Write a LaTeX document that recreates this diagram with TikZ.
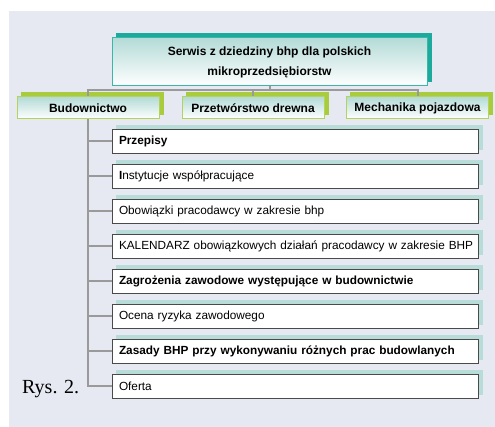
\documentclass[tikz,border=0pt]{standalone}
\usepackage{fontspec}
\setmainfont{Liberation Sans}
\newfontfamily\rysfont{Liberation Serif}
\definecolor{panelgray}{HTML}{E6E9F1}
\definecolor{tealdark}{HTML}{1CAA9C}
\definecolor{tealline}{HTML}{3BB7AA}
\definecolor{tealpale}{HTML}{B4DBD7}
\definecolor{itemshadow}{HTML}{B8DCD8}
\definecolor{limegreen}{HTML}{A9CB3E}
\definecolor{limeline}{HTML}{B5D35C}
\definecolor{linkgray}{HTML}{9A9A9A}
\definecolor{itemline}{HTML}{4A4A4A}
\pgfdeclarelayer{panel}
\pgfdeclarelayer{shade}
\pgfsetlayers{panel,shade,main}
\tikzset{
  mainbox/.style={draw=tealline, line width=1pt, top color=tealpale, bottom color=white,
    minimum width=315pt, minimum height=48pt, align=center,
    font=\fontsize{12}{20}\selectfont\bfseries},
  branchbox/.style={draw=limeline, line width=1pt, top color=tealpale, bottom color=white,
    minimum width=142pt, minimum height=22pt, inner sep=0pt,
    font=\fontsize{12}{14}\selectfont\bfseries},
  itembox/.style={draw=itemline, line width=1pt, fill=white,
    minimum width=366pt, text width=352pt, minimum height=24pt, inner xsep=7pt, inner ysep=0pt,
    align=left, font=\fontsize{11.8}{14}\selectfont},
  link/.style={draw=linkgray, line width=2pt}
}
\begin{document}
\begin{tikzpicture}[x=1pt,y=-1pt]
\useasboundingbox (0,0) rectangle (495,427);
\begin{pgfonlayer}{panel}
\fill[panelgray] (9,11) rectangle (495,427);
\end{pgfonlayer}

\node[mainbox] (serwis) at (269.5,62) {Serwis z dziedziny bhp dla polskich\\mikroprzedsiębiorstw};
\node[branchbox] (bud) at (88,108) {Budownictwo};
\node[branchbox] (drewno) at (253,108) {Przetwórstwo drewna};
\node[branchbox] (mech) at (417.5,108) {Mechanika pojazdowa};

\foreach \txt [count=\i] in {\textbf{Przepisy},
    \textbf{I}nstytucje współpracujące,
    Obowiązki pracodawcy w zakresie bhp,
    \mbox{KALENDARZ obowiązkowych działań pracodawcy w zakresie BHP},
    \textbf{Zagrożenia zawodowe występujące w budownictwie},
    Ocena ryzyka zawodowego,
    \textbf{Zasady BHP przy wykonywaniu różnych prac budowlanych},
    Oferta}{
  \node[itembox] (item\i) at (295,141.5+34.93*\i-34.93) {\txt};
}

% shadows, up and to the right
\begin{pgfonlayer}{shade}
\fill[tealdark] ([shift={(4,-4)}]serwis.south west) rectangle ([shift={(4,-4)}]serwis.north east);
\foreach \b in {bud,drewno,mech}
  \fill[limegreen] ([shift={(4,-4)}]\b.south west) rectangle ([shift={(4,-4)}]\b.north east);
\foreach \i in {1,...,8}
  \fill[itemshadow] ([shift={(4,-4)}]item\i.south west) rectangle ([shift={(4,-4)}]item\i.north east);

\coordinate (hub) at (269.5,90);
\draw[link] (serwis.south) -- (hub);
\foreach \b in {bud,drewno,mech}
  \draw[link] (hub) -| (\b.north);
\foreach \i in {1,...,7}
  \draw[link] (bud.south |- item\i.west) -- (item\i.west);
\draw[link] (bud.south) |- (item8.west);
\end{pgfonlayer}

\node[font=\rysfont\fontsize{20}{24}\selectfont, anchor=base west, inner sep=0pt] (rys) at (22,393) {Rys. 2.};
\end{tikzpicture}
\end{document}
